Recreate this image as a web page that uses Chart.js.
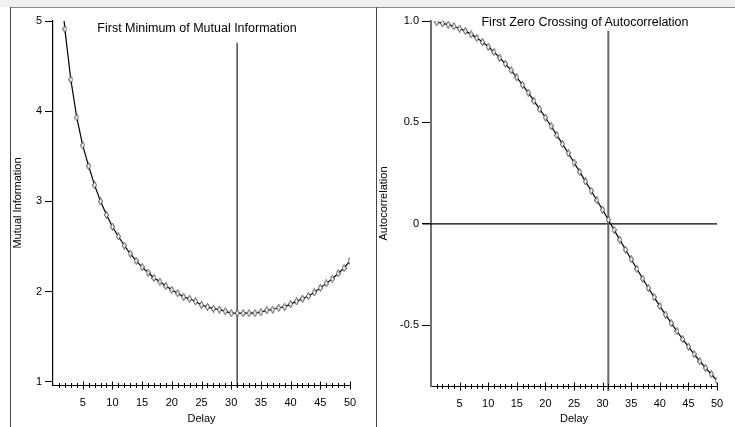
<!DOCTYPE html>
<html>
<head>
<meta charset="utf-8">
<script src="https://cdn.jsdelivr.net/npm/chart.js@4"></script>
<style>
  html, body { margin: 0; padding: 0; background: #fff; }
  #page { position: relative; width: 735px; height: 427px; overflow: hidden;
          font-family: "Liberation Sans", Arial, sans-serif; }
  .strip { position: absolute; left: 0; top: 0; width: 735px; height: 7px; background: #f0f0f0; }
  .hl { position: absolute; left: 10px; top: 7px; width: 725px; height: 1px; background: #8a8a8a; }
  .vl { position: absolute; top: 7px; width: 1px; height: 420px; background: #444; }
  canvas { position: absolute; }
  .title { position: absolute; font-size: 12.5px; color: #000; white-space: nowrap;
           transform: translate(-50%, -50%); }
</style>
</head>
<body>
<div id="page">
  <div class="strip"></div>
  <div class="hl"></div>
  <div class="vl" style="left:10px"></div>
  <div class="vl" style="left:376px"></div>
  <canvas id="mi" width="365" height="419" style="left:11px;top:8px"></canvas>
  <canvas id="ac" width="358" height="419" style="left:377px;top:8px"></canvas>
  <div class="title" style="left:197px;top:28px">First Minimum of Mutual Information</div>
  <div class="title" style="left:585px;top:22px">First Zero Crossing of Autocorrelation</div>
</div>
<script>
// --- data -----------------------------------------------------------------
const delays = [1,2,3,4,5,6,7,8,9,10,11,12,13,14,15,16,17,18,19,20,21,22,23,24,25,
                26,27,28,29,30,31,32,33,34,35,36,37,38,39,40,41,42,43,44,45,46,47,48,49,50];
const mutualInfo = [5.6,4.91,4.35,3.93,3.62,3.39,3.18,3.00,2.85,2.72,2.61,2.51,2.42,2.34,2.27,
                    2.21,2.15,2.11,2.06,2.02,1.98,1.94,1.92,1.89,1.85,1.83,1.81,1.80,1.78,1.76,
                    1.76,1.76,1.76,1.76,1.77,1.79,1.80,1.82,1.83,1.86,1.89,1.92,1.95,1.99,2.04,
                    2.09,2.14,2.20,2.26,2.34];
const autocorr = [0.994,0.988,0.982,0.974,0.963,0.950,0.934,0.917,0.896,0.873,0.848,0.819,0.789,
                  0.757,0.722,0.685,0.647,0.606,0.565,0.524,0.481,0.437,0.393,0.348,0.302,0.256,
                  0.209,0.163,0.116,0.069,0.020,-0.030,-0.078,-0.127,-0.175,-0.223,-0.270,-0.317,
                  -0.362,-0.406,-0.448,-0.490,-0.530,-0.569,-0.606,-0.643,-0.678,-0.711,-0.742,-0.773];
const chosenDelay = 31;                 // vertical marker in both panels
const miMarkerSpan = [4.76, 0.94];      // top / bottom of the marker line (MI units)
const acMarkerSpan = [0.952, -0.825];
const zeroLineSpan = [-1.5, 50];        // x extent of the zero line
const xTicks = [5,10,15,20,25,30,35,40,45,50];
const minorTicks = delays;
const miTicks = [1,2,3,4,5];
const acTicks = [-0.5,0,0.5,1.0];

// --- helpers --------------------------------------------------------------
const FONT = { family: '"Liberation Sans", Arial, sans-serif', size: 11 };

function diamond() {
  const c = document.createElement("canvas");
  c.width = 5; c.height = 8;
  const g = c.getContext("2d");
  g.fillStyle = "#fff"; g.strokeStyle = "#333"; g.lineWidth = 0.9;
  g.beginPath();
  g.moveTo(2.5, 0.5); g.lineTo(4.5, 4); g.lineTo(2.5, 7.5); g.lineTo(0.5, 4); g.closePath();
  g.fill(); g.stroke();
  return c;
}
const MARK = diamond();

// ticks that cross the x axis, small at each delay, bigger every 5
const crossTicks = {
  id: "crossTicks",
  afterDraw(chart) {
    const x = chart.scales.x, ctx = chart.ctx, y0 = Math.round(chart.chartArea.bottom) + 0.5;
    ctx.save();
    ctx.strokeStyle = "#000"; ctx.lineWidth = 1;
    minorTicks.forEach(v => {
      const px = Math.round(x.getPixelForValue(v)) + 0.5;
      const h = v % 5 === 0 ? 4 : 2.5;
      ctx.beginPath(); ctx.moveTo(px, y0 - h); ctx.lineTo(px, y0 + h); ctx.stroke();
    });
    ctx.restore();
  },
};

function pts(ys) { return delays.map((d, i) => ({ x: d, y: ys[i] })); }

function makeChart(id, cfg) {
  return new Chart(document.getElementById(id), {
    type: "scatter",
    data: { datasets: cfg.datasets },
    options: {
      responsive: false, animation: false,
      layout: { padding: { top: 13, right: cfg.padRight, bottom: 0, left: 0 } },
      plugins: { legend: { display: false }, tooltip: { enabled: false } },
      scales: {
        x: {
          type: "linear", min: 0, max: 50,
          afterBuildTicks: s => { s.ticks = xTicks.map(v => ({ value: v })); },
          afterFit: s => { s.height = cfg.xHeight; },
          grid: { display: false, drawTicks: false },
          border: { display: true, color: "#000", width: 1 },
          ticks: { color: "#000", font: FONT, padding: 11, maxRotation: 0 },
          title: { display: true, text: "Delay", color: "#000", font: FONT, padding: { top: 0, bottom: 1 } },
        },
        y: {
          type: "linear", min: cfg.yMin, max: cfg.yMax,
          afterBuildTicks: s => { s.ticks = cfg.yTicks.map(v => ({ value: v })); },
          afterFit: s => { s.width = cfg.yWidth; },
          grid: { drawOnChartArea: false, drawTicks: true, tickLength: cfg.tickLen, color: "#000" },
          border: { display: true, color: cfg.axisColor, width: cfg.axisWidth },
          ticks: { color: "#000", font: FONT, padding: 3, callback: cfg.fmt },
          title: { display: true, text: cfg.yTitle, color: "#000", font: FONT, padding: 0 },
        },
      },
    },
    plugins: [crossTicks],
  });
}

const curve = (ys) => ({
  data: pts(ys), showLine: true, borderColor: "#000", borderWidth: 1.2,
  pointStyle: MARK, pointRadius: 4, tension: 0,
});
const rule = (data, color, w) => ({
  data, showLine: true, borderColor: color, borderWidth: w, pointRadius: 0, clip: false,
});

makeChart("mi", {
  datasets: [
    curve(mutualInfo),
    rule([{ x: chosenDelay, y: miMarkerSpan[0] }, { x: chosenDelay, y: miMarkerSpan[1] }], "#333", 1.3),
  ],
  yMin: 0.963, yMax: 5, yTicks: miTicks, yWidth: 42, xHeight: 42, padRight: 26,
  tickLen: 8, axisColor: "#000", axisWidth: 1.2, yTitle: "Mutual Information",
  fmt: v => String(v),
});

makeChart("ac", {
  datasets: [
    curve(autocorr),
    rule([{ x: chosenDelay, y: acMarkerSpan[0] }, { x: chosenDelay, y: acMarkerSpan[1] }], "#666", 2),
    rule([{ x: zeroLineSpan[0], y: 0 }, { x: zeroLineSpan[1], y: 0 }], "#000", 1.2),
  ],
  yMin: -0.8, yMax: 1.0, yTicks: acTicks, yWidth: 54, xHeight: 41, padRight: 18,
  tickLen: 9, axisColor: "#707070", axisWidth: 2, yTitle: "Autocorrelation",
  fmt: v => (v === 0 ? "0" : v.toFixed(1)),
});
</script>
</body>
</html>
